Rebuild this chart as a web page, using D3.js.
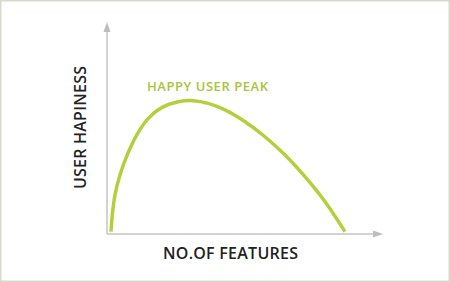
<!DOCTYPE html>
<html>
<head>
    <meta charset="utf-8">
    <script src="https://d3js.org/d3.v7.min.js"></script>
    <style>
        body { margin: 0; background: #fff; }
        svg { display: block; }
    </style>
</head>
<body>
    <script>
        // curve (x = features, y = happiness, both 0..100)
        const features = [1.5, 2.0, 3.0, 4.9, 7.4, 11.2, 15.6, 20.6, 26.9, 32.6, 38.2, 44.5, 52.1, 59.6, 67.2, 74.7, 82.3, 89.8];
        const happiness = [1.1, 9.0, 18.5, 28.0, 36.8, 46.9, 54.8, 59.9, 62.7, 63.2, 61.9, 58.8, 53.2, 46.1, 37.4, 27.2, 15.3, 1.1];
        const xLabel = "NO.OF FEATURES";
        const yLabel = "USER HAPINESS";
        const peakLabel = "HAPPY USER PEAK";

        const width = 450, height = 282;
        const x0 = 107, y0 = 234;
        const green = "#b3d03c";
        const axisGray = "#c4c4c4";

        const svg = d3.select("body").append("svg")
            .attr("width", width)
            .attr("height", height);

        // frame
        svg.append("rect")
            .attr("x", 0.75).attr("y", 0.75)
            .attr("width", width - 1.5).attr("height", height - 1.5)
            .attr("fill", "#fff")
            .attr("stroke", "#d3dbcb")
            .attr("stroke-width", 1.5);

        var x = d3.scaleLinear().domain([0, 100]).range([x0, 372]);
        var y = d3.scaleLinear().domain([0, 100]).range([y0, 23]);

        // axes
        svg.append("line")
            .attr("x1", x0).attr("y1", y0)
            .attr("x2", 376).attr("y2", y0)
            .attr("stroke", axisGray).attr("stroke-width", 1.5);
        svg.append("line")
            .attr("x1", x0).attr("y1", y0)
            .attr("x2", x0).attr("y2", 29)
            .attr("stroke", axisGray).attr("stroke-width", 1.5);

        // arrow heads
        svg.append("path")
            .attr("d", "M383," + y0 + " L373," + (y0 - 3.5) + " L373," + (y0 + 3.5) + " Z")
            .attr("fill", "#bdbdbd");
        svg.append("path")
            .attr("d", "M" + x0 + ",22 L" + (x0 - 3.5) + ",32 L" + (x0 + 3.5) + ",32 Z")
            .attr("fill", "#bdbdbd");

        // happiness curve
        var pts = features.map((f, i) => [f, happiness[i]]);
        var line = d3.line()
            .x(d => x(d[0]))
            .y(d => y(d[1]))
            .curve(d3.curveCatmullRom.alpha(0.5));

        svg.append("path")
            .datum(pts)
            .attr("d", line)
            .attr("fill", "none")
            .attr("stroke", green)
            .attr("stroke-width", 3.5);

        // labels
        svg.append("text")
            .attr("x", 147).attr("y", 91)
            .attr("font-family", "Open Sans")
            .attr("font-weight", 600)
            .attr("font-size", 13)
            .attr("fill", "#a9c43a")
            .attr("textLength", 121)
            .text(peakLabel);

        svg.append("text")
            .attr("x", 163).attr("y", 258.5)
            .attr("font-family", "Open Sans")
            .attr("font-weight", 600)
            .attr("font-size", 16)
            .attr("fill", "#222")
            .attr("textLength", 135)
            .text(xLabel);

        svg.append("text")
            .attr("transform", "translate(86,189) rotate(-90)")
            .attr("font-family", "Open Sans")
            .attr("font-weight", 600)
            .attr("font-size", 16)
            .attr("fill", "#222")
            .attr("textLength", 123)
            .text(yLabel);
    </script>
</body>
</html>
